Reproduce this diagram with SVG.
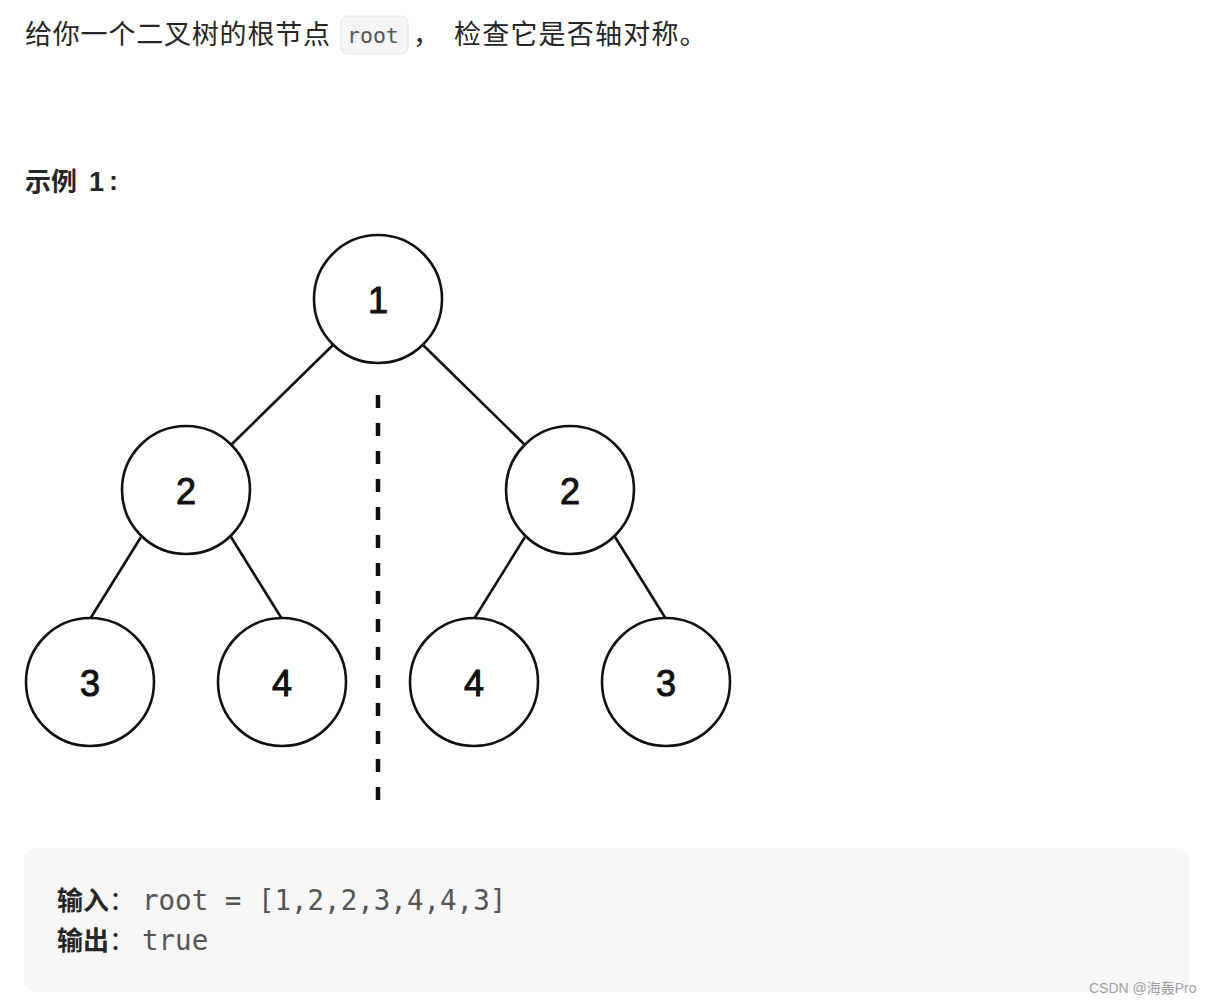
<svg xmlns="http://www.w3.org/2000/svg" width="1210" height="1004" viewBox="0 0 1210 1004">
<style>
.cjk{font-family:"Noto Sans CJK SC","Noto Sans",sans-serif;fill:#262626}
.mono{font-family:"DejaVu Sans Mono","Liberation Mono",monospace;fill:#555}
.node circle{fill:#fff;stroke:#111;stroke-width:2.6}
.node text{font-family:"Liberation Sans",Arial,sans-serif;font-size:36px;fill:#111;stroke:#111;stroke-width:1;text-anchor:middle}
.edge{stroke:#111;stroke-width:2.6;fill:none}
</style>
<rect width="1210" height="1004" fill="#fff"/>
<g id="title">
<text class="cjk" x="25" y="44" font-size="27" letter-spacing="0.8">给你一个二叉树的根节点</text>
<rect x="341" y="16" width="67" height="38" rx="7" fill="#f5f5f5" stroke="#e6e6e6" stroke-width="1.2"/>
<text class="mono" x="347" y="43" font-size="21.5">root</text>
<text class="cjk" x="413" y="44" font-size="27">，</text>
<text class="cjk" x="454" y="44" font-size="27" letter-spacing="1.2">检查它是否轴对称。</text>
</g>
<g id="example">
<text class="cjk" x="25" y="191" font-size="26" font-weight="bold">示例</text>
<text x="89" y="191" font-family="'Liberation Sans',sans-serif" font-size="27" font-weight="bold" fill="#262626">1</text>
<text x="109" y="190" font-family="'Liberation Sans',sans-serif" font-size="27" font-weight="bold" fill="#262626">:</text>
</g>
<g id="connectors">
<line class="edge" x1="333" y1="345" x2="232" y2="444"/>
<line class="edge" x1="423" y1="345" x2="524" y2="444"/>
<line class="edge" x1="141" y1="537" x2="90" y2="619"/>
<line class="edge" x1="231" y1="537" x2="282" y2="619"/>
<line class="edge" x1="525" y1="537" x2="474" y2="619"/>
<line class="edge" x1="615" y1="537" x2="666" y2="619"/>
<line x1="378" y1="395" x2="378" y2="813" stroke="#111" stroke-width="4.5" stroke-dasharray="13 15"/>
</g>
<g id="n1" class="node"><circle cx="378" cy="299" r="64"/><text x="378" y="313">1</text></g>
<g id="n2l" class="node"><circle cx="186" cy="490" r="64"/><text x="186" y="504">2</text></g>
<g id="n2r" class="node"><circle cx="570" cy="490" r="64"/><text x="570" y="504">2</text></g>
<g id="n3l" class="node"><circle cx="90" cy="682" r="64"/><text x="90" y="696">3</text></g>
<g id="n4l" class="node"><circle cx="282" cy="682" r="64"/><text x="282" y="696">4</text></g>
<g id="n4r" class="node"><circle cx="474" cy="682" r="64"/><text x="474" y="696">4</text></g>
<g id="n3r" class="node"><circle cx="666" cy="682" r="64"/><text x="666" y="696">3</text></g>
<g id="codeblock">
<rect x="24" y="848" width="1166" height="144" rx="14" fill="#f7f7f7"/>
<text class="cjk" x="57" y="910" font-size="26" font-weight="bold">输入<tspan font-weight="normal">：</tspan></text>
<text class="mono" x="142" y="910" font-size="27.5">root = [1,2,2,3,4,4,3]</text>
<text class="cjk" x="57" y="950" font-size="26" font-weight="bold">输出<tspan font-weight="normal">：</tspan></text>
<text class="mono" x="142" y="950" font-size="27.5">true</text>
</g>
<text x="1089" y="993" font-family="'Liberation Sans','Noto Sans CJK SC',sans-serif" font-size="14" fill="#a0a0a0">CSDN @海轰Pro</text>
</svg>
